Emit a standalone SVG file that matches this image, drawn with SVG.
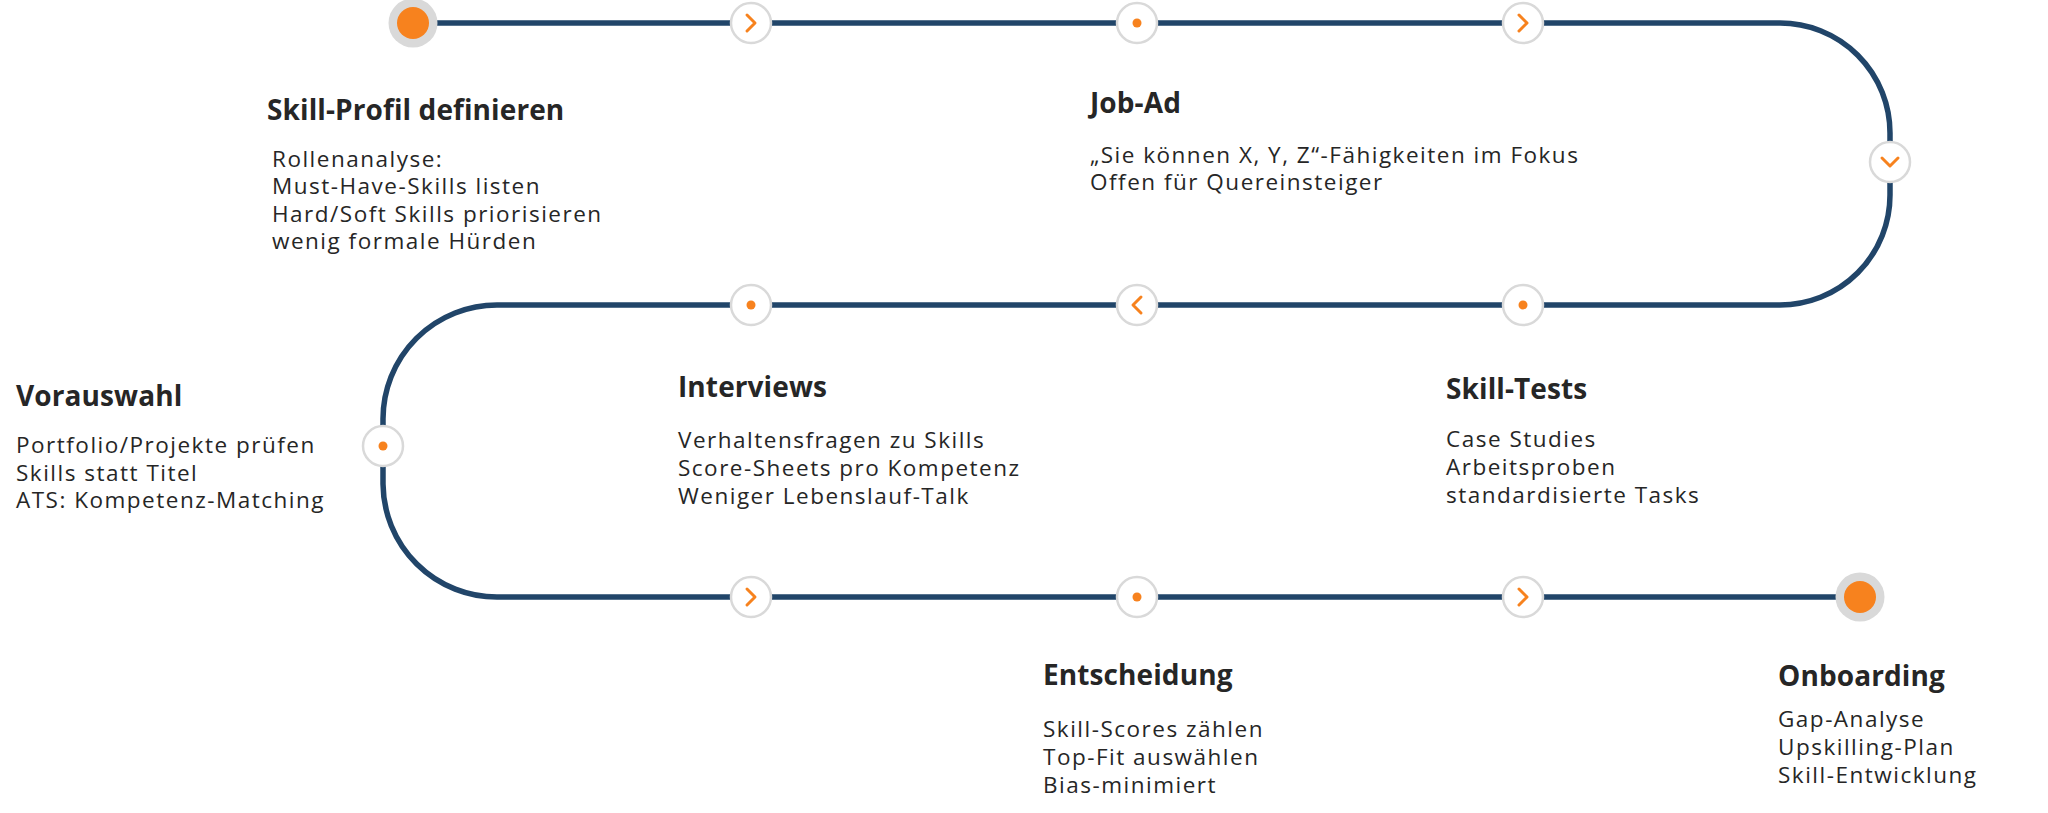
<svg xmlns="http://www.w3.org/2000/svg" width="2048" height="813" viewBox="0 0 2048 813">
<style>
.track{fill:none;stroke:#214569;stroke-width:5.5}
.ring{fill:#ffffff;stroke:#d9d9d9;stroke-width:2.5}
.dot{fill:#f7821e}
.chev{fill:none;stroke:#f7821e;stroke-width:3;stroke-linecap:round;stroke-linejoin:round}
.bigring{fill:#d9d9d9}
.bigdot{fill:#f7821e}
.title{font-family:"Open Sans","Liberation Sans",sans-serif;font-weight:700;font-size:28px;letter-spacing:0.1px;fill:#262626}
.body{font-family:"Open Sans","Liberation Sans",sans-serif;font-size:22.5px;letter-spacing:1.5px;fill:#262626}
</style>
<rect width="2048" height="813" fill="#ffffff"/>
<g id="connectors">
<path class="track" d="M 413 23 H 1780 A 110 110 0 0 1 1890 133 V 195 A 110 110 0 0 1 1780 305 H 497 A 114 114 0 0 0 383 419 V 484 A 114 114 0 0 0 497 597 H 1860"/>
</g>
<g id="markers">
<g id="m-start"><circle class="bigring" cx="413" cy="23" r="24.5"/><circle class="bigdot" cx="413" cy="23" r="16"/></g>
<g id="m1"><circle class="ring" cx="751" cy="23" r="20"/><polyline class="chev" points="747,15 755,23 747,31"/></g>
<g id="m2"><circle class="ring" cx="1137" cy="23" r="20"/><circle class="dot" cx="1137" cy="23" r="4.5"/></g>
<g id="m3"><circle class="ring" cx="1523" cy="23" r="20"/><polyline class="chev" points="1519,15 1527,23 1519,31"/></g>
<g id="m4"><circle class="ring" cx="1890" cy="162" r="20"/><polyline class="chev" points="1882,158 1890,166 1898,158"/></g>
<g id="m5"><circle class="ring" cx="1523" cy="305" r="20"/><circle class="dot" cx="1523" cy="305" r="4.5"/></g>
<g id="m6"><circle class="ring" cx="1137" cy="305" r="20"/><polyline class="chev" points="1141,297 1133,305 1141,313"/></g>
<g id="m7"><circle class="ring" cx="751" cy="305" r="20"/><circle class="dot" cx="751" cy="305" r="4.5"/></g>
<g id="m8"><circle class="ring" cx="383" cy="446" r="20"/><circle class="dot" cx="383" cy="446" r="4.5"/></g>
<g id="m9"><circle class="ring" cx="751" cy="597" r="20"/><polyline class="chev" points="747,589 755,597 747,605"/></g>
<g id="m10"><circle class="ring" cx="1137" cy="597" r="20"/><circle class="dot" cx="1137" cy="597" r="4.5"/></g>
<g id="m11"><circle class="ring" cx="1523" cy="597" r="20"/><polyline class="chev" points="1519,589 1527,597 1519,605"/></g>
<g id="m-end"><circle class="bigring" cx="1860" cy="597" r="24.5"/><circle class="bigdot" cx="1860" cy="597" r="16"/></g>
</g>
<g id="skill-profil">
<text class="title" x="267" y="120">Skill-Profil definieren</text>
<text class="body" x="272" y="167">Rollenanalyse:</text>
<text class="body" x="272" y="194">Must-Have-Skills listen</text>
<text class="body" x="272" y="222">Hard/Soft Skills priorisieren</text>
<text class="body" x="272" y="249">wenig formale Hürden</text>
</g>
<g id="job-ad">
<text class="title" x="1090" y="113">Job-Ad</text>
<text class="body" x="1090" y="163">„Sie können X, Y, Z“-Fähigkeiten im Fokus</text>
<text class="body" x="1090" y="190">Offen für Quereinsteiger</text>
</g>
<g id="vorauswahl">
<text class="title" x="16" y="406">Vorauswahl</text>
<text class="body" x="16" y="453">Portfolio/Projekte prüfen</text>
<text class="body" x="16" y="481">Skills statt Titel</text>
<text class="body" x="16" y="508">ATS: Kompetenz-Matching</text>
</g>
<g id="interviews">
<text class="title" x="678" y="397">Interviews</text>
<text class="body" x="678" y="448">Verhaltensfragen zu Skills</text>
<text class="body" x="678" y="476">Score-Sheets pro Kompetenz</text>
<text class="body" x="678" y="504">Weniger Lebenslauf-Talk</text>
</g>
<g id="skill-tests">
<text class="title" x="1446" y="399">Skill-Tests</text>
<text class="body" x="1446" y="447">Case Studies</text>
<text class="body" x="1446" y="475">Arbeitsproben</text>
<text class="body" x="1446" y="503">standardisierte Tasks</text>
</g>
<g id="entscheidung">
<text class="title" x="1043" y="685">Entscheidung</text>
<text class="body" x="1043" y="737">Skill-Scores zählen</text>
<text class="body" x="1043" y="765">Top-Fit auswählen</text>
<text class="body" x="1043" y="793">Bias-minimiert</text>
</g>
<g id="onboarding">
<text class="title" x="1778" y="686">Onboarding</text>
<text class="body" x="1778" y="727">Gap-Analyse</text>
<text class="body" x="1778" y="755">Upskilling-Plan</text>
<text class="body" x="1778" y="783">Skill-Entwicklung</text>
</g>
</svg>
